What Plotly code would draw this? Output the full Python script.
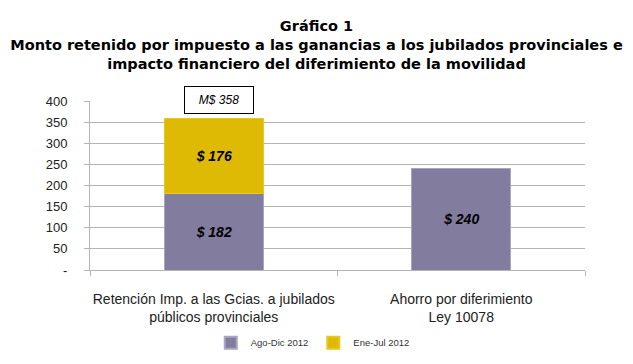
import plotly.graph_objects as go

categories = ["Retención Imp. a las Gcias. a jubilados<br>públicos provinciales",
              "Ahorro por diferimiento<br>Ley 10078"]
ago_dic_2012 = [182, 240]
ene_jul_2012 = [176, None]
total_label = "M$ 358"
y_ticks = [0, 50, 100, 150, 200, 250, 300, 350, 400]
y_ticktext = ["-", "50", "100", "150", "200", "250", "300", "350", "400"]

label_font = dict(family="Liberation Sans", size=14, color="black", weight="bold", style="italic")

fig = go.Figure()
fig.add_trace(go.Bar(
    x=categories, y=ago_dic_2012, name="Ago-Dic 2012",
    marker=dict(color="#827c9f", line=dict(color="#a9a4c2", width=1)),
    text=[f"$ {v}" for v in ago_dic_2012], textposition="inside",
    insidetextanchor="middle", textfont=label_font, width=0.4,
))
fig.add_trace(go.Bar(
    x=categories, y=ene_jul_2012, name="Ene-Jul 2012",
    marker=dict(color="#deba04", line=dict(color="#e8c820", width=1)),
    text=[f"$ {v}" if v is not None else "" for v in ene_jul_2012], textposition="inside",
    insidetextanchor="middle", textfont=label_font, width=0.4,
))

fig.add_annotation(
    x=categories[0], xref="x", y=1.005, yref="paper", xshift=5, text=total_label, showarrow=False,
    font=dict(family="Liberation Sans", size=12, color="black", style="italic"),
    bordercolor="black", borderwidth=1, bgcolor="white", width=66, height=24,
    xanchor="center", yanchor="middle",
)

W, H = 625, 356  # page body has an 8px margin
fig.update_layout(
    barmode="stack",
    width=W, height=H,
    margin=dict(l=82, r=48, t=93, b=94, autoexpand=False),
    paper_bgcolor="white", plot_bgcolor="white",
    title=dict(
        text="Gráfico 1<br>Monto retenido por impuesto a las ganancias a los jubilados provinciales e<br>impacto financiero del diferimiento de la movilidad",
        x=(316.5 - 8) / W, xanchor="center", xref="container", y=1 - 23 / H, yref="container", yanchor="top",
        font=dict(family="DejaVu Sans", size=14.5, color="black", weight="bold"),
        automargin=False,
    ),
    showlegend=True,
    legend=dict(orientation="h", x=0.45, xanchor="center", y=-0.43, yanchor="middle",
                font=dict(family="Liberation Sans", size=9.5, color="#333"),
                traceorder="normal", itemsizing="constant"),
)
fig.update_yaxes(
    range=[0, 400], tickvals=y_ticks, ticktext=y_ticktext,
    showgrid=True, gridcolor="#b4b4b4", gridwidth=1,
    showline=True, linecolor="#b4b4b4", zeroline=False,
    tickfont=dict(family="Liberation Sans", size=13, color="#222"),
    ticks="outside", ticklen=5, tickcolor="#b4b4b4", ticklabelstandoff=14,
    automargin=False,
)
fig.update_xaxes(
    showline=True, linecolor="#b4b4b4", tickson="boundaries", ticks="outside",
    tickcolor="#b4b4b4", ticklen=5, ticklabelstandoff=16, tickangle=0,
    tickfont=dict(family="Liberation Sans", size=14, color="#222"),
    automargin=False,
)

fig.write_html("out.html")
